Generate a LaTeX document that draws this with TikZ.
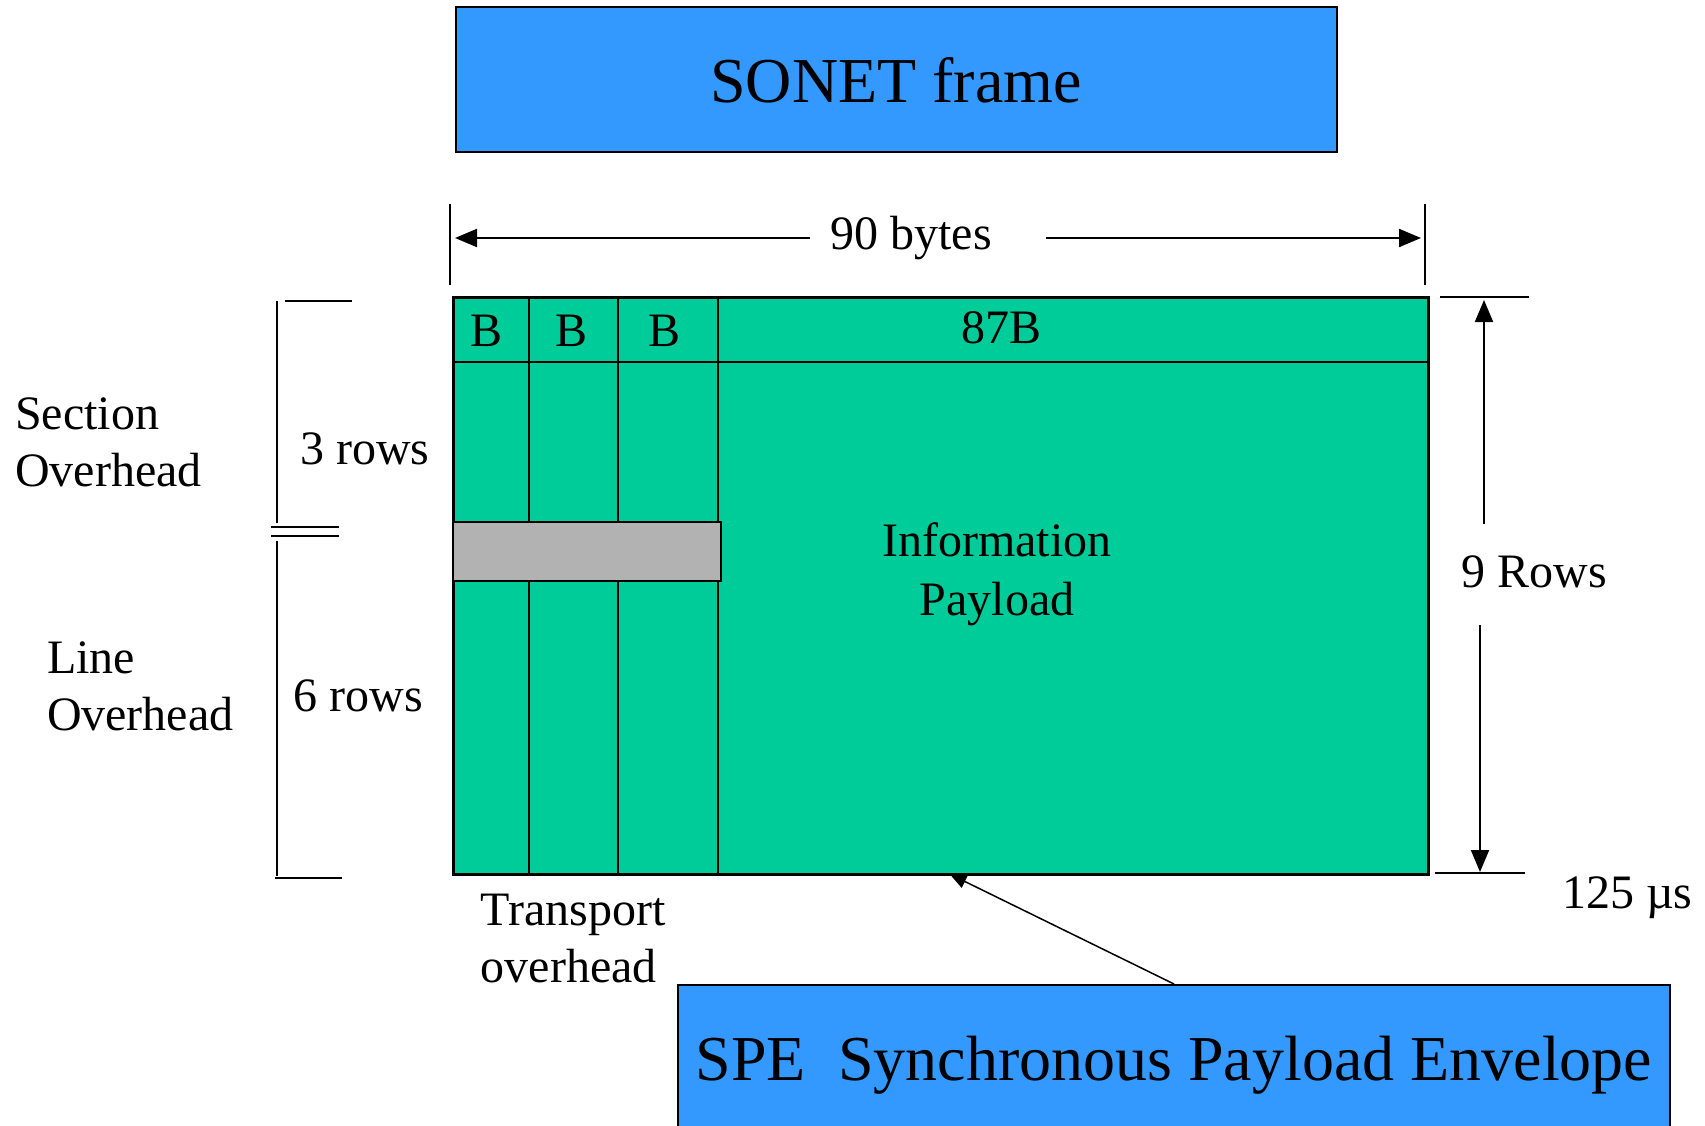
\documentclass[tikz,border=0pt]{standalone}
\usepackage{fontspec}
\setmainfont{Liberation Serif}
\usetikzlibrary{arrows.meta}
\definecolor{boxblue}{RGB}{51,153,255}
\definecolor{framegreen}{RGB}{0,204,153}
\definecolor{ohgrey}{RGB}{178,178,178}
\begin{document}
\begin{tikzpicture}[x=1pt,y=-1pt,
  bigtxt/.style={font=\fontsize{64}{70}\selectfont},
  midtxt/.style={font=\fontsize{48}{57}\selectfont, inner sep=0pt},
  bluebox/.style={draw=black, line width=2pt, fill=boxblue, inner sep=0pt},
  rule/.style={line width=2pt},
  dimarrow/.style={line width=2pt, -{Triangle[length=22pt,width=18pt]}},
  spearrow/.style={line width=1.5pt, -{Triangle[length=17pt,width=14pt]}}]
\useasboundingbox (0,0) rectangle (1705,1126);
% title
\node[bluebox, bigtxt, minimum width=881pt, minimum height=145pt] (title) at (896,80) {SONET frame};
% frame
\node[draw=black, line width=2.5pt, fill=framegreen, minimum width=975pt, minimum height=577pt, anchor=north west, inner sep=0pt] (frame) at (452,296) {};
\draw[rule] (452,362) -- (1427,362);
\draw[rule] (528.5,296) -- (528.5,873);
\draw[rule] (617.6,296) -- (617.6,873);
\draw[rule] (717.7,296) -- (717.7,873);
\node[draw=black, line width=2pt, fill=ohgrey, minimum width=268pt, minimum height=59pt, anchor=north west, inner sep=0pt] (grey) at (452,521) {};
\node[midtxt] (b1) at (487,331) {B};
\node[midtxt] (b2) at (572,331) {B};
\node[midtxt] (b3) at (664,331) {B};
\node[midtxt] (b87) at (1001,328) {87B};
\node[midtxt, align=center, font=\fontsize{48}{59}\selectfont] (info) at (997,574) {Information\\Payload};
% 90 bytes
\draw[rule] (450,204) -- (450,285);
\draw[rule] (1424.5,204) -- (1424.5,285);
\node[midtxt] (bytes) at (911,238) {90 bytes};
\coordinate (bl1) at (810,238);
\coordinate (bl2) at (455,238);
\coordinate (br1) at (1046,238);
\coordinate (br2) at (1421,238);
\draw[dimarrow] (bl1) -- (bl2);
\draw[dimarrow] (br1) -- (br2);
% 9 rows
\draw[rule] (1440,297) -- (1529,297);
\draw[rule] (1435,873) -- (1525,873);
\node[midtxt] (rows) at (1534,572) {9 Rows};
\coordinate (ru1) at (1484,524);
\coordinate (ru2) at (1484,300);
\coordinate (rd1) at (1480,625);
\coordinate (rd2) at (1480,872);
\draw[dimarrow] (ru1) -- (ru2);
\draw[dimarrow] (rd1) -- (rd2);
\node[midtxt, anchor=west] (time) at (1562,898) {125 µs};
% left bracket
\draw[rule] (285,301) -- (352,301);
\draw[rule] (277.3,301) -- (277.3,523);
\draw[rule] (271,526.7) -- (339,526.7);
\draw[rule] (271,536) -- (339,536);
\draw[rule] (277.3,541) -- (277.3,876);
\draw[rule] (275,878) -- (342,878);
\node[midtxt, anchor=west, align=left] (sect) at (15,442) {Section\\Overhead};
\node[midtxt, anchor=west] (r3) at (300,449) {3 rows};
\node[midtxt, anchor=west, align=left] (line) at (46.8,686) {Line\\Overhead};
\node[midtxt, anchor=west] (r6) at (293.6,696) {6 rows};
\node[midtxt, anchor=west, align=left] (trans) at (480.6,939) {Transport\\overhead};
% SPE
\node[bluebox, bigtxt, minimum width=992pt, minimum height=160pt, anchor=north] (spe) at (1174,984) {\raisebox{12pt}{SPE\ \ Synchronous Payload Envelope}};
\coordinate (spetip) at (949.6,874);
\draw[spearrow] (spe.north) -- (spetip);
\end{tikzpicture}
\end{document}
